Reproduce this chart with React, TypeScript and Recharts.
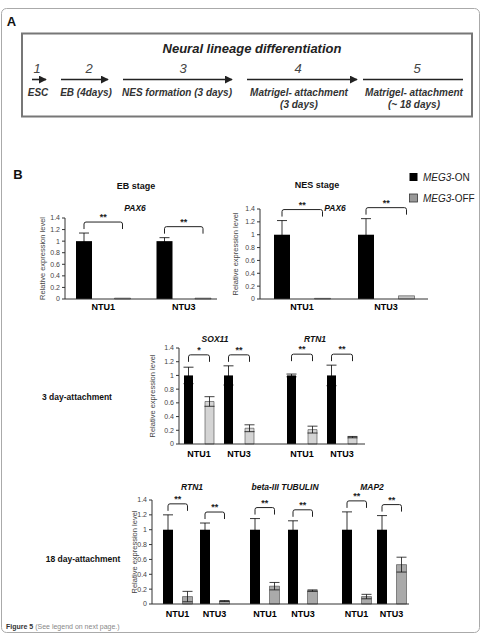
import { BarChart, Bar, XAxis, YAxis, ErrorBar } from "recharts"

const FONT = "'Liberation Sans', Arial, Helvetica, sans-serif"

const cells = ["NTU1", "NTU3"]
const yTicks = [0, 0.2, 0.4, 0.6, 0.8, 1, 1.2, 1.4]

// PAX6 at the EB stage
const ebOn = [1, 1]
const ebOnErr = [0.14, 0.06]
const ebOff = [0.015, 0.015]
const ebOffErr = [0, 0]
const ebSig = ["**", "**"]

// PAX6 at the NES stage
const nesOn = [1, 1]
const nesOnErr = [0.22, 0.25]
const nesOff = [0.01, 0.05]
const nesOffErr = [0, 0]
const nesSig = ["**", "**"]

// 3 day-attachment
const sox11On = [1, 1]
const sox11OnErr = [0.12, 0.14]
const sox11Off = [0.62, 0.23]
const sox11OffErr = [0.07, 0.05]
const sox11Sig = ["*", "**"]

const rtn1dOn = [1, 1]
const rtn1dOnErr = [0.02, 0.15]
const rtn1dOff = [0.21, 0.1]
const rtn1dOffErr = [0.05, 0.01]
const rtn1dSig = ["**", "**"]

// 18 day-attachment
const rtn1On = [1, 1]
const rtn1OnErr = [0.2, 0.09]
const rtn1Off = [0.1, 0.04]
const rtn1OffErr = [0.07, 0.005]
const rtn1Sig = ["**", "**"]

const tubOn = [1, 1]
const tubOnErr = [0.15, 0.12]
const tubOff = [0.24, 0.18]
const tubOffErr = [0.05, 0.01]
const tubSig = ["**", "**"]

const map2On = [1, 1]
const map2OnErr = [0.24, 0.19]
const map2Off = [0.1, 0.53]
const map2OffErr = [0.03, 0.1]
const map2Sig = ["**", "**"]

// differentiation timeline
const stepNums = ["1", "2", "3", "4", "5"]
const stepNames = [
  ["ESC"],
  ["EB (4days)"],
  ["NES formation (3 days)"],
  ["Matrigel- attachment", "(3 days)"],
  ["Matrigel- attachment", "(~ 18 days)"],
]

type GeneSet = { on: number[]; onErr: number[]; off: number[]; offErr: number[]; sig: string[] }

const gene = (on: number[], onErr: number[], off: number[], offErr: number[], sig: string[]): GeneSet => ({
  on,
  onErr,
  off,
  offErr,
  sig,
})

const MT = 26
const XH = 22

type PlotProps = {
  set: GeneSet
  x0: number
  x1: number
  top: number
  bottom: number
  padL?: number
  padR?: number
  size: number
  gap: number
  offFill: string
  yLabelX?: number
  align?: boolean
  tickGap?: number
}

function GenePlot({ set, x0, x1, top, bottom, padL = 0, padR = 0, size, gap, offFill, yLabelX, align = false, tickGap = 6 }: PlotProps) {
  const showY = yLabelX !== undefined
  const yw = showY ? x0 - (yLabelX as number) + 8 : 0
  const w = x1 - x0 + yw
  const h = MT + (bottom - top) + XH
  const rows = cells.map((cell, i) => ({
    cell,
    on: set.on[i],
    onErr: set.onErr[i],
    off: set.off[i],
    offErr: set.offErr[i],
  }))
  const peakOf = (i: number) => Math.max(set.on[i] + set.onErr[i], set.off[i] + set.offErr[i])
  const sharedPeak = Math.max(...cells.map((_, i) => peakOf(i)))

  // black bar plus the significance bracket spanning to its OFF partner
  const onShape = (p: any) => {
    const { x, y, width, height, index } = p
    const base = y + height
    const unit = height / set.on[index]
    const peak = align ? sharedPeak : peakOf(index)
    const t = base - unit * peak - 11
    const lx = x + width / 2
    const rx = lx + width + gap
    const leg = 7
    const r = 2
    return (
      <g>
        <rect x={x} y={y} width={width} height={height} fill="#000" />
        <path
          d={`M${lx},${t + leg} L${lx},${t + r} Q${lx},${t} ${lx + r},${t} L${rx - r},${t} Q${rx},${t} ${rx},${t + r} L${rx},${t + leg}`}
          fill="none"
          stroke="#222"
          strokeWidth={1}
        />
        <text x={(lx + rx) / 2} y={t - 2} textAnchor="middle" fontSize={9} fontWeight={700} fill="#222">
          {set.sig[index]}
        </text>
      </g>
    )
  }

  return (
    <div style={{ position: "absolute", left: x0 - yw, top: top - MT }}>
      <BarChart
        width={w}
        height={h}
        data={rows}
        margin={{ top: MT, right: 0, bottom: 0, left: 0 }}
        barSize={size}
        barGap={gap}
      >
        <XAxis
          dataKey="cell"
          padding={{ left: padL, right: padR }}
          height={XH}
          interval={0}
          tickSize={0}
          tickLine={false}
          tickMargin={tickGap}
          axisLine={{ stroke: "#333" }}
          tick={{ fill: "#000", fontSize: 9, fontWeight: 700 }}
        />
        <YAxis
          hide={!showY}
          width={yw}
          domain={[0, 1.4]}
          ticks={yTicks}
          interval={0}
          tickSize={3}
          tickMargin={2}
          axisLine={{ stroke: "#333" }}
          tickLine={{ stroke: "#333" }}
          tick={{ fill: "#444", fontSize: 7 }}
          tickFormatter={(v: number) => String(Math.round(v * 10) / 10)}
          label={{
            value: "Relative expression level",
            angle: -90,
            position: "insideLeft",
            offset: 8,
            textAnchor: "middle",
            fontSize: 7.5,
            fill: "#444",
          }}
        />
        <Bar dataKey="on" fill="#000" shape={onShape} isAnimationActive={false}>
          <ErrorBar dataKey="onErr" width={5} stroke="#000" strokeWidth={0.8} />
        </Bar>
        <Bar dataKey="off" fill={offFill} stroke="#444" strokeWidth={0.6} isAnimationActive={false}>
          <ErrorBar dataKey="offErr" width={5} stroke="#111" strokeWidth={0.8} />
        </Bar>
      </BarChart>
    </div>
  )
}

// arrow start, arrow end, number centre, label centre
const stepSpans = [
  [32, 46, 37, 38],
  [61, 108, 89, 86],
  [123, 232, 183, 177],
  [247, 357, 298, 299],
  [363, 463, 417, 414],
]

function Overlay() {
  const geneTitle = { fontSize: 8.5, fontWeight: 700, fontStyle: "italic" as const, fill: "#111", textAnchor: "middle" as const }
  const stage = { fontSize: 9, fontWeight: 700, fill: "#111", textAnchor: "middle" as const }
  return (
    <svg width={482} height={639} style={{ position: "absolute", left: 0, top: 0 }}>
      <defs>
        <marker id="head" viewBox="0 0 10 10" refX="9" refY="5" markerWidth="5" markerHeight="5" orient="auto">
          <path d="M0,0 L10,5 L0,10 z" fill="#222" />
        </marker>
      </defs>
      <rect x={1.5} y={8.5} width={478} height={624} rx={5} fill="none" stroke="#aaa" />

      <text x={11.5} y={21.5} dominantBaseline="central" fontSize={13} fontWeight={700} fill="#111" textAnchor="middle">
        A
      </text>
      <rect x={22} y={33.5} width={450} height={83} fill="none" stroke="#777" strokeWidth={2} />
      <text x={252} y={48.5} dominantBaseline="central" fontSize={13} fontWeight={700} fontStyle="italic" fill="#222" textAnchor="middle">
        Neural lineage differentiation
      </text>
      {stepSpans.map(([a, b, nx, lx], i) => (
        <g key={i}>
          <text x={nx} y={68.5} dominantBaseline="central" fontSize={13} fontStyle="italic" fill="#444" textAnchor="middle">
            {stepNums[i]}
          </text>
          <line
            x1={a}
            y1={79.5}
            x2={b}
            y2={79.5}
            stroke="#222"
            strokeWidth={1.6}
            markerEnd={i < stepSpans.length - 1 ? "url(#head)" : undefined}
          />
          {stepNames[i].map((s, j) => (
            <text
              key={j}
              x={lx}
              y={92 + j * 12.5}
              dominantBaseline="central"
              fontSize={10}
              fontWeight={700}
              fontStyle="italic"
              fill="#333"
              textAnchor="middle"
            >
              {s}
            </text>
          ))}
        </g>
      ))}

      <text x={18} y={174} dominantBaseline="central" fontSize={13} fontWeight={700} fill="#111" textAnchor="middle">
        B
      </text>
      <text x={136} y={186} dominantBaseline="central" {...stage}>
        EB stage
      </text>
      <text x={317} y={185} dominantBaseline="central" {...stage}>
        NES stage
      </text>
      <text x={135} y={208} dominantBaseline="central" {...geneTitle}>
        PAX6
      </text>
      <text x={335} y={208} dominantBaseline="central" {...geneTitle}>
        PAX6
      </text>

      <rect x={409.5} y={173} width={8} height={8} fill="#000" />
      <text x={423} y={177} dominantBaseline="central" fontSize={10} fill="#222">
        <tspan fontStyle="italic">MEG3</tspan>-ON
      </text>
      <rect x={409.5} y={194} width={8} height={8} fill="#999" stroke="#333" strokeWidth={0.8} />
      <text x={423} y={198} dominantBaseline="central" fontSize={10} fill="#222">
        <tspan fontStyle="italic">MEG3</tspan>-OFF
      </text>

      <text x={215} y={339} dominantBaseline="central" {...geneTitle}>
        SOX11
      </text>
      <text x={315} y={339} dominantBaseline="central" {...geneTitle}>
        RTN1
      </text>
      <text x={77} y={397} dominantBaseline="central" fontSize={8.5} fontWeight={700} fill="#111" textAnchor="middle">
        3 day-attachment
      </text>

      <text x={192} y={487} dominantBaseline="central" {...geneTitle}>
        RTN1
      </text>
      <text x={285} y={487} dominantBaseline="central" {...geneTitle}>
        beta-III TUBULIN
      </text>
      <text x={372} y={487} dominantBaseline="central" {...geneTitle}>
        MAP2
      </text>
      <text x={83} y={559} dominantBaseline="central" fontSize={8.5} fontWeight={700} fill="#111" textAnchor="middle">
        18 day-attachment
      </text>

      <text x={6} y={626} dominantBaseline="central" fontSize={7} fill="#888">
        <tspan fontWeight={700} fill="#333">
          Figure 5
        </tspan>{" "}
        (See legend on next page.)
      </text>
    </svg>
  )
}

export default function App() {
  const eb = gene(ebOn, ebOnErr, ebOff, ebOffErr, ebSig)
  const nes = gene(nesOn, nesOnErr, nesOff, nesOffErr, nesSig)
  const sox11 = gene(sox11On, sox11OnErr, sox11Off, sox11OffErr, sox11Sig)
  const rtn1d = gene(rtn1dOn, rtn1dOnErr, rtn1dOff, rtn1dOffErr, rtn1dSig)
  const rtn1 = gene(rtn1On, rtn1OnErr, rtn1Off, rtn1OffErr, rtn1Sig)
  const tub = gene(tubOn, tubOnErr, tubOff, tubOffErr, tubSig)
  const map2 = gene(map2On, map2OnErr, map2Off, map2OffErr, map2Sig)

  return (
    <div
      style={{
        position: "absolute",
        left: 0,
        top: 0,
        width: 482,
        height: 639,
        background: "#fff",
        fontFamily: FONT,
        overflow: "hidden",
      }}
    >
      <Overlay />

      <GenePlot set={eb} x0={65} x1={217} top={218} bottom={299} padL={-2} padR={-7} size={16} gap={22.5} offFill="#c4c4c4" yLabelX={42} tickGap={5} />
      <GenePlot set={nes} x0={260} x1={428} top={209} bottom={299} size={16} gap={24.5} offFill="#c4c4c4" yLabelX={235} tickGap={5} />

      <GenePlot set={sox11} x0={179} x1={270} top={348} bottom={444} padR={11} size={9} gap={12} offFill="#d4d4d4" yLabelX={152} align tickGap={7} />
      <GenePlot set={rtn1d} x0={270} x1={365} top={348} bottom={444} padL={12} padR={3} size={9} gap={12} offFill="#d4d4d4" align tickGap={7} />

      <GenePlot set={rtn1} x0={152} x1={240} top={500} bottom={604} padL={7} padR={7} size={10} gap={9.5} offFill="#aaaaaa" yLabelX={134} tickGap={7} />
      <GenePlot set={tub} x0={240} x1={330} top={500} bottom={604} padL={6} padR={8} size={10} gap={9.5} offFill="#aaaaaa" tickGap={7} />
      <GenePlot set={map2} x0={330} x1={409} top={500} bottom={604} padL={9} size={10} gap={9.5} offFill="#aaaaaa" tickGap={7} />
    </div>
  )
}
